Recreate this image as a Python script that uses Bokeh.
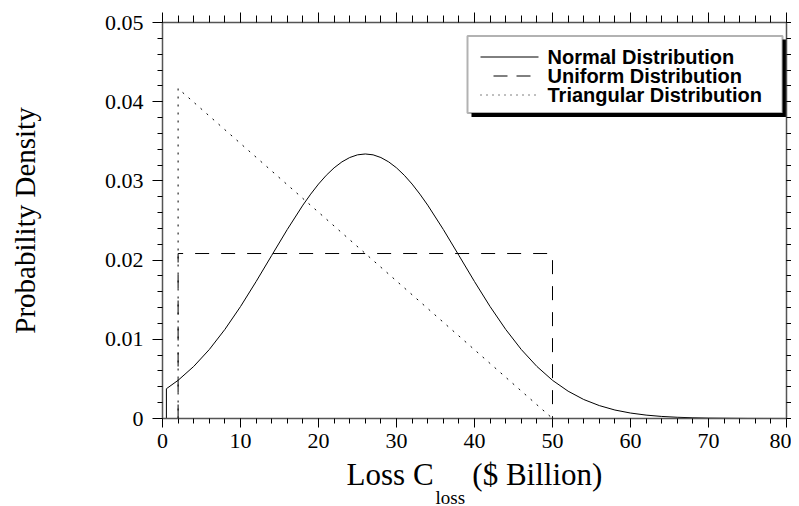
from math import pi
from bokeh.plotting import figure
from bokeh.models import Range1d, LinearAxis, FixedTicker, Label, BoxAnnotation, Title
from bokeh.embed import file_html
from bokeh.resources import INLINE

# ---- data ----
normal_x = [0.5, 0.5, 2, 4, 6, 8, 10, 12, 14, 16, 18, 19, 20, 21, 22, 23, 24, 25, 26,
            27, 28, 29, 30, 31, 32, 33, 34, 36, 38, 40, 42, 44, 46, 48, 50, 52, 54,
            56, 58, 60, 62, 64, 66, 68, 70, 75, 80]
normal_y = [0.0, 0.00376, 0.00482, 0.00657, 0.00871, 0.01125, 0.01413, 0.01729,
            0.02059, 0.02387, 0.02694, 0.02833, 0.02960, 0.03071, 0.03165, 0.03240,
            0.03295, 0.03329, 0.03340, 0.03329, 0.03295, 0.03240, 0.03165, 0.03071,
            0.02960, 0.02833, 0.02694, 0.02387, 0.02059, 0.01729, 0.01413, 0.01125,
            0.00871, 0.00657, 0.00482, 0.00345, 0.00240, 0.00163, 0.00107, 0.00069,
            0.00043, 0.00026, 0.000155, 0.000089, 0.00005, 0.00001, 0.000002]
uniform_x = [2, 2, 50, 50]
uniform_y = [0.0, 0.02083, 0.02083, 0.0]
tri_x = [2, 2, 50]
tri_y = [0.0, 0.04167, 0.0]

x_major = [0, 10, 20, 30, 40, 50, 60, 70, 80]
x_minor = [v for v in range(0, 81, 2)]
y_major = [0.0, 0.01, 0.02, 0.03, 0.04, 0.05]
y_minor = [round(i * 0.002, 4) for i in range(26)]
y_tick_labels = ["0", "0.01", "0.02", "0.03", "0.04", "0.05"]
legend_names = ["Normal Distribution", "Uniform Distribution", "Triangular Distribution"]
x_title_main = "Loss C\u00a0\u00a0\u00a0\u00a0\u00a0($ Billion)"
x_title_sub = "loss"
y_title = "Probability Density"

# ---- page-pixel helpers (layout only) ----
FX0, FY0 = 162.0, 418.0
PXX, PXY = 624.0 / 80.0, 396.0 / 0.05
def dx(px):
    return (px - FX0) / PXX
def dy(py):
    return (FY0 - py) / PXY

SERIF = "Liberation Serif"
SANS = "Liberation Sans"

p = figure(width=791, height=506, x_range=Range1d(0, 80), y_range=Range1d(0, 0.05),
           output_backend="svg", toolbar_location=None,
           min_border_left=162, min_border_right=5, min_border_top=22, min_border_bottom=88)
p.grid.visible = False
p.outline_line_color = None
p.background_fill_color = "white"
p.border_fill_color = "white"

def style(ax, major, minor, maj_out, min_out, font_px, standoff, labels=True):
    ax.ticker = FixedTicker(ticks=major, minor_ticks=minor)
    ax.major_tick_in = 0
    ax.minor_tick_in = 0
    ax.major_tick_out = maj_out
    ax.minor_tick_out = min_out
    ax.axis_line_color = "#555555"
    ax.axis_line_width = 1.5
    ax.major_tick_line_color = "black"
    ax.minor_tick_line_color = "black"
    ax.major_label_standoff = standoff
    if labels:
        ax.major_label_text_font = SERIF
        ax.major_label_text_font_size = f"{font_px}px"
        ax.major_label_text_color = "black"
    else:
        ax.major_label_text_font_size = "0px"
        ax.major_label_text_color = None

xb = p.xaxis[0]
style(xb, x_major, x_minor, 9, 5, 22, 6)
yl = p.yaxis[0]
style(yl, y_major, y_minor, 10, 5, 22, 9)
yl.major_label_overrides = {v: s for v, s in zip(y_major, y_tick_labels)}
yl.axis_label = y_title
yl.axis_label_text_font = SERIF
yl.axis_label_text_font_size = "29px"
yl.axis_label_text_font_style = "normal"
yl.axis_label_text_color = "black"
yl.axis_label_standoff = 61

xt = LinearAxis()
style(xt, x_major, x_minor, 10, 7, 0, 0, labels=False)
p.add_layout(xt, "above")
yr = LinearAxis()
style(yr, y_major, y_minor, 5, 5, 0, 0, labels=False)
p.add_layout(yr, "right")

# ---- x axis title (main text, then subscript row) ----
p.add_layout(Title(text=x_title_main, align="center", standoff=8,
                   text_font=SERIF, text_font_size="31px", text_font_style="normal",
                   text_color="black"), "below")
p.add_layout(Title(text=x_title_sub, align="left", offset=273, standoff=-24,
                   text_font=SERIF, text_font_size="19px", text_font_style="normal",
                   text_color="black"), "below")

# ---- curves ----
p.line(normal_x, normal_y, line_color="black", line_width=1)
p.line(uniform_x, uniform_y, line_color="black", line_width=1, line_dash="14 12")
p.line(tri_x, tri_y, line_color="black", line_width=1, line_dash="2 6")

# ---- legend (drawn by hand, with drop shadow) ----
p.add_layout(BoxAnnotation(left=dx(471), right=dx(786), top=dy(39), bottom=dy(116.5),
                           fill_color="black", fill_alpha=1, line_color=None,
                           level="underlay"))
p.add_layout(BoxAnnotation(left=dx(467), right=dx(782), top=dy(35.5), bottom=dy(112.5),
                           fill_color="white", fill_alpha=1, line_color="black",
                           line_width=2, level="underlay"))
rows = [56.5, 75.5, 94.5]
p.line([dx(480), dx(538)], [dy(rows[0])] * 2, line_color="black", line_width=1)
p.line([dx(493), dx(530)], [dy(rows[1])] * 2, line_color="black", line_width=1,
       line_dash="14 9")
p.line([dx(480), dx(538)], [dy(rows[2])] * 2, line_color="black", line_width=1,
       line_dash="1 5")
for name, r in zip(legend_names, rows):
    p.add_layout(Label(x=dx(547), y=dy(r), text=name, text_align="left",
                       text_baseline="middle", text_font=SANS,
                       text_font_style="bold", text_font_size="20px",
                       text_color="black"))

open("out.html", "w").write(file_html(p, INLINE))
